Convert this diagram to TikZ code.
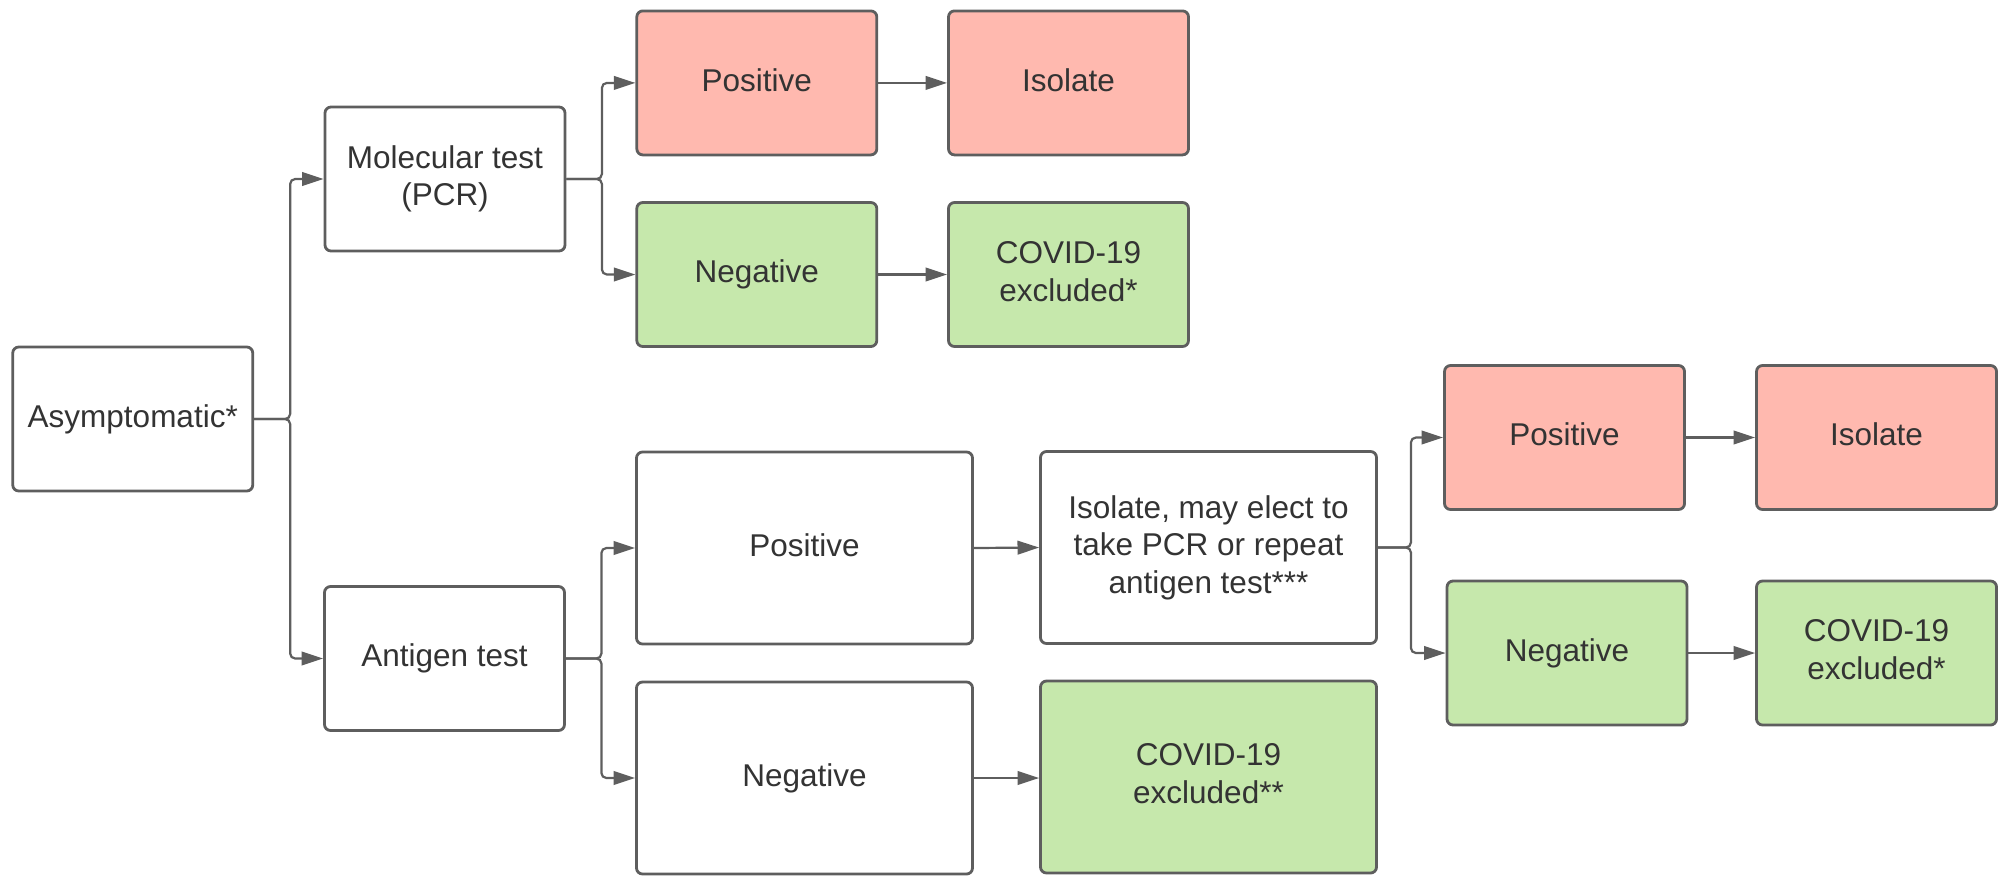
\documentclass[tikz,border=0pt]{standalone}
\usepackage{fontspec}
\setmainfont{Liberation Sans}
\usetikzlibrary{arrows.meta}
\definecolor{bordc}{HTML}{5E5E5E}
\definecolor{txtc}{HTML}{333333}
\definecolor{redf}{HTML}{FFB9AF}
\definecolor{greenf}{HTML}{C6E8AC}
\begin{document}
\begin{tikzpicture}[x=0.5pt,y=-0.5pt,
  box/.style={draw=bordc, line width=1.4pt, rounded corners=3pt, fill=white,
    text=txtc, align=center, font=\fontsize{15.75}{18.8}\selectfont,
    inner sep=0pt, minimum width=120pt, minimum height=72pt,
    execute at end node={\vphantom{g}}},
  bigbox/.style={box, minimum width=168pt, minimum height=96pt},
  redbox/.style={fill=redf},
  greenbox/.style={fill=greenf},
  conn/.style={draw=bordc, line width=1.1pt, rounded corners=2.5pt,
    -{Triangle[length=10.8pt,width=6.8pt]}, fill=none}]
\useasboundingbox (0,0) rectangle (2000,875);

\node[box] (asym) at (132.75,419) {Asymptomatic*};
\node[box] (mol) at (445,179) {Molecular test\\(PCR)};
\node[box,redbox] (mpos) at (756.8,82.9) {Positive};
\node[box,redbox] (miso) at (1068.5,82.9) {Isolate};
\node[box,greenbox] (mneg) at (756.8,274.5) {Negative};
\node[box,greenbox] (mexc) at (1068.5,274.5) {COVID-19\\excluded*};

\node[box] (ant) at (444.5,658.5) {Antigen test};
\node[bigbox] (apos) at (804.5,548) {Positive};
\node[bigbox] (aneg) at (804.5,778) {Negative};
\node[bigbox] (elect) at (1208.5,547.5) {Isolate, may elect to\\take PCR or repeat\\antigen test***};
\node[bigbox,greenbox] (aexc) at (1208.5,777) {COVID-19\\excluded**};

\node[box,redbox] (rpos) at (1564.5,437.5) {Positive};
\node[box,redbox] (riso) at (1876.5,437.5) {Isolate};
\node[box,greenbox] (rneg) at (1567,653) {Negative};
\node[box,greenbox] (rexc) at (1876.5,653) {COVID-19\\excluded*};

\draw[conn] (asym.east) -- ++(36,0) |- (mol.west);
\draw[conn] (asym.east) -- ++(36,0) |- (ant.west);
\draw[conn] (mol.east) -- ++(35.5,0) |- (mpos.west);
\draw[conn] (mol.east) -- ++(35.5,0) |- (mneg.west);
\draw[conn] (mpos.east) -- (miso.west);
\draw[conn] (mneg.east) -- (mexc.west);
\draw[conn] (ant.east) -- ++(35.5,0) |- (apos.west);
\draw[conn] (ant.east) -- ++(35.5,0) |- (aneg.west);
\draw[conn] (apos.east) -- (elect.west);
\draw[conn] (aneg.east) -- (aneg.east -| aexc.west);
\draw[conn] (elect.east) -- ++(33,0) |- (rpos.west);
\draw[conn] (elect.east) -- ++(33,0) |- (rneg.west);
\draw[conn] (rpos.east) -- (riso.west);
\draw[conn] (rneg.east) -- (rexc.west);
\end{tikzpicture}
\end{document}
